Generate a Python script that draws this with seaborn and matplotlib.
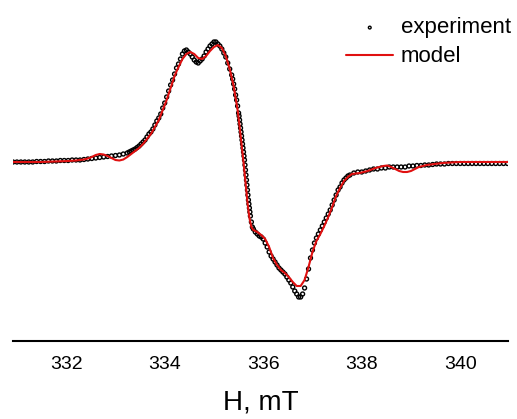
import numpy as np
import matplotlib.pyplot as plt
import seaborn as sns

# experimental EPR spectrum (field in mT, intensity in arb. units)
field_exp = [
    330.92, 331.00, 331.08, 331.16, 331.24, 331.32, 331.40, 331.48, 331.56, 331.64,
    331.72, 331.80, 331.88, 331.96, 332.04, 332.12, 332.20, 332.28, 332.36, 332.44,
    332.52, 332.60, 332.68, 332.76, 332.84, 332.92, 333.00, 333.08, 333.16, 333.24,
    333.28, 333.32, 333.36, 333.40, 333.44, 333.48, 333.52, 333.56, 333.60, 333.64,
    333.68, 333.72, 333.76, 333.80, 333.84, 333.88, 333.92, 333.96, 334.00, 334.04,
    334.08, 334.12, 334.16, 334.20, 334.24, 334.28, 334.32, 334.36, 334.40, 334.44,
    334.48, 334.52, 334.56, 334.60, 334.64, 334.68, 334.72, 334.76, 334.80, 334.84,
    334.88, 334.92, 334.96, 335.00, 335.04, 335.08, 335.12, 335.16, 335.20, 335.24,
    335.28, 335.32, 335.36, 335.38, 335.40, 335.42, 335.44, 335.46, 335.48, 335.50,
    335.51, 335.52, 335.53, 335.54, 335.55, 335.56, 335.57, 335.58, 335.59, 335.60,
    335.61, 335.62, 335.63, 335.64, 335.65, 335.66, 335.67, 335.68, 335.69, 335.70,
    335.71, 335.72, 335.73, 335.74, 335.76, 335.78, 335.80, 335.84, 335.88, 335.92,
    335.96, 336.00, 336.04, 336.08, 336.12, 336.16, 336.20, 336.24, 336.28, 336.32,
    336.36, 336.40, 336.44, 336.48, 336.52, 336.56, 336.60, 336.64, 336.68, 336.72,
    336.76, 336.80, 336.84, 336.88, 336.92, 336.96, 337.00, 337.04, 337.08, 337.12,
    337.16, 337.20, 337.24, 337.28, 337.32, 337.36, 337.40, 337.44, 337.48, 337.52,
    337.56, 337.60, 337.64, 337.68, 337.72, 337.76, 337.84, 337.92, 338.00, 338.08,
    338.16, 338.24, 338.32, 338.40, 338.48, 338.56, 338.64, 338.72, 338.80, 338.88,
    338.96, 339.04, 339.12, 339.20, 339.28, 339.36, 339.44, 339.52, 339.60, 339.68,
    339.76, 339.84, 339.92, 340.00, 340.08, 340.16, 340.24, 340.32, 340.40, 340.48,
    340.56, 340.64, 340.72, 340.80, 340.88, 340.96,
]
signal_exp = [
    0.00, 0.00, 0.00, 0.00, 0.00, 0.00, 0.005, 0.005, 0.005, 0.01,
    0.01, 0.01, 0.015, 0.015, 0.015, 0.02, 0.02, 0.02, 0.025, 0.03,
    0.035, 0.04, 0.045, 0.05, 0.055, 0.06, 0.065, 0.07, 0.08, 0.09,
    0.10, 0.11, 0.12, 0.13, 0.145, 0.16, 0.18, 0.20, 0.22, 0.25,
    0.28, 0.30, 0.33, 0.37, 0.41, 0.44, 0.48, 0.54, 0.59, 0.65,
    0.71, 0.77, 0.82, 0.88, 0.94, 0.98, 1.03, 1.08, 1.11, 1.12,
    1.10, 1.08, 1.05, 1.02, 1.00, 0.99, 1.01, 1.03, 1.06, 1.10,
    1.13, 1.16, 1.18, 1.20, 1.20, 1.18, 1.16, 1.13, 1.09, 1.05,
    0.99, 0.93, 0.87, 0.83, 0.78, 0.73, 0.67, 0.62, 0.56, 0.49,
    0.46, 0.42, 0.38, 0.34, 0.30, 0.26, 0.22, 0.18, 0.14, 0.10,
    0.06, 0.02, -0.03, -0.08, -0.13, -0.18, -0.23, -0.28, -0.33, -0.38,
    -0.42, -0.46, -0.50, -0.54, -0.60, -0.65, -0.67, -0.70, -0.72, -0.74,
    -0.75, -0.77, -0.81, -0.85, -0.90, -0.94, -0.97, -1.00, -1.03, -1.06,
    -1.08, -1.10, -1.12, -1.15, -1.18, -1.21, -1.25, -1.29, -1.32, -1.35,
    -1.35, -1.32, -1.26, -1.17, -1.07, -0.96, -0.88, -0.81, -0.76, -0.72,
    -0.68, -0.64, -0.60, -0.56, -0.52, -0.48, -0.43, -0.38, -0.33, -0.28,
    -0.25, -0.21, -0.18, -0.16, -0.14, -0.13, -0.11, -0.10, -0.10, -0.09,
    -0.08, -0.07, -0.07, -0.06, -0.06, -0.05, -0.05, -0.05, -0.05, -0.05,
    -0.04, -0.04, -0.035, -0.035, -0.03, -0.03, -0.025, -0.02, -0.02, -0.02,
    -0.015, -0.015, -0.015, -0.015, -0.015, -0.015, -0.015, -0.015, -0.015, -0.015,
    -0.015, -0.015, -0.015, -0.015, -0.015, -0.015,
]

# simulated spectrum
field_model = [
    330.92, 331.20, 331.48, 331.76, 332.04, 332.20, 332.36, 332.44, 332.52, 332.60,
    332.68, 332.76, 332.84, 332.92, 333.00, 333.08, 333.16, 333.24, 333.32, 333.40,
    333.48, 333.56, 333.64, 333.72, 333.80, 333.88, 333.96, 334.04, 334.12, 334.20,
    334.28, 334.36, 334.44, 334.52, 334.60, 334.68, 334.76, 334.84, 334.92, 335.00,
    335.08, 335.16, 335.24, 335.32, 335.40, 335.48, 335.52, 335.56, 335.60, 335.64,
    335.68, 335.72, 335.76, 335.80, 335.88, 335.96, 336.04, 336.12, 336.20, 336.28,
    336.36, 336.44, 336.52, 336.60, 336.68, 336.76, 336.84, 336.92, 337.00, 337.08,
    337.16, 337.24, 337.32, 337.40, 337.48, 337.56, 337.64, 337.72, 337.80, 337.96,
    338.12, 338.28, 338.44, 338.52, 338.60, 338.68, 338.76, 338.84, 338.92, 339.00,
    339.08, 339.16, 339.32, 339.48, 339.64, 339.80, 340.00, 340.40, 340.96,
]
signal_model = [
    0.00, 0.00, 0.00, 0.005, 0.01, 0.015, 0.025, 0.035, 0.05, 0.07,
    0.08, 0.075, 0.06, 0.04, 0.02, 0.015, 0.025, 0.05, 0.08, 0.11,
    0.14, 0.18, 0.23, 0.28, 0.35, 0.42, 0.52, 0.62, 0.74, 0.86,
    0.95, 1.03, 1.08, 1.10, 1.08, 1.04, 1.03, 1.06, 1.11, 1.15,
    1.17, 1.14, 1.06, 0.93, 0.76, 0.52, 0.36, 0.18, 0.00, -0.20,
    -0.40, -0.56, -0.65, -0.68, -0.70, -0.73, -0.77, -0.85, -0.96, -1.03,
    -1.08, -1.11, -1.15, -1.20, -1.24, -1.24, -1.18, -1.05, -0.90, -0.79,
    -0.72, -0.64, -0.55, -0.45, -0.34, -0.26, -0.19, -0.15, -0.12, -0.11,
    -0.09, -0.06, -0.04, -0.035, -0.05, -0.07, -0.09, -0.10, -0.10, -0.09,
    -0.07, -0.05, -0.03, -0.02, -0.01, -0.005, 0.00, 0.00, 0.00,
]

sns.set_style('white')
plt.rcParams['font.family'] = ['Liberation Sans', 'DejaVu Sans']
plt.rcParams['text.color'] = 'black'
plt.rcParams['xtick.color'] = 'black'

fig = plt.figure(figsize=(5.17, 4.19), dpi=100)
ax = fig.add_axes([13 / 517, 78 / 419, 495 / 517, 341 / 419])

sns.scatterplot(x=field_exp, y=signal_exp, ax=ax, marker='o', s=8,
                facecolor='none', edgecolor='black', linewidth=1.0,
                label='experiment', zorder=2)
sns.lineplot(x=field_model, y=signal_model, ax=ax, color='#e01010',
             linewidth=1.5, label='model', sort=False, zorder=3)

ax.set_xlim(330.92, 340.97)
ax.set_ylim(-1.79, 1.62)
ax.set_xticks([332, 334, 336, 338, 340])
ax.set_yticks([])
ax.tick_params(axis='x', length=0, pad=11, labelsize=14, labelcolor='black')
ax.set_xlabel('H, mT', fontsize=20, labelpad=12, color='black')
ax.set_ylabel('')

for side in ['top', 'right', 'left']:
    ax.spines[side].set_visible(False)
ax.spines['bottom'].set_color('black')
ax.spines['bottom'].set_linewidth(1.5)

ax.legend(loc='upper right', bbox_to_anchor=(1.024, 0.975), frameon=False,
          fontsize=16, handlelength=2.1, handletextpad=0.35, labelspacing=0.36,
          borderaxespad=0, markerscale=0.7)

fig.savefig('out.png', dpi=100)
